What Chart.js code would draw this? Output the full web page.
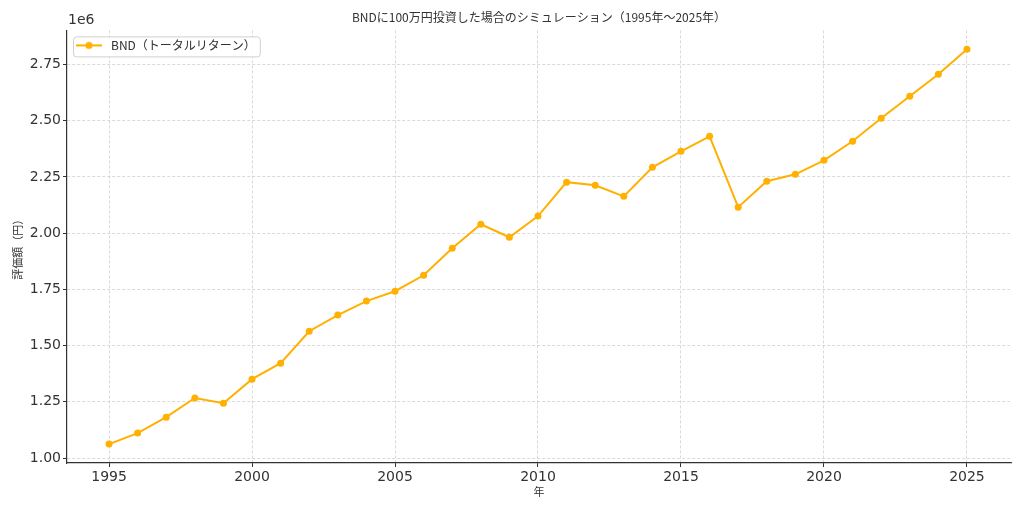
<!DOCTYPE html>
<html>
<head>
<meta charset="utf-8">
<script src="https://cdn.jsdelivr.net/npm/chart.js@4"></script>
<style>
  html, body { margin: 0; padding: 0; background: #fff; }
  #wrap { width: 1024px; height: 512px; }
</style>
</head>
<body>
<div id="wrap"><canvas id="bndChart" width="1024" height="512"></canvas></div>
<script>
const years = [1995, 1996, 1997, 1998, 1999, 2000, 2001, 2002, 2003, 2004, 2005, 2006, 2007, 2008, 2009, 2010,
               2011, 2012, 2013, 2014, 2015, 2016, 2017, 2018, 2019, 2020, 2021, 2022, 2023, 2024, 2025];
const values = [1062000, 1111000, 1182000, 1267000, 1244000, 1351000, 1422000, 1564000, 1636000, 1698000,
                1742000, 1813000, 1933000, 2040000, 1982000, 2076000, 2227000, 2213000, 2164000, 2293000,
                2364000, 2431000, 2116000, 2231000, 2262000, 2324000, 2409000, 2511000, 2609000, 2707000, 2818000];
const xTicks = [1995, 2000, 2005, 2010, 2015, 2020, 2025];
const yTicks = [1000000, 1250000, 1500000, 1750000, 2000000, 2250000, 2500000, 2750000];

const seriesLabel = 'BND（トータルリターン）';
const lineColor = '#FFB000';
const cjk = '"Noto Sans CJK JP", "Noto Sans", sans-serif';
const num = '"DejaVu Sans", sans-serif';

// legend icon: short line with a dot, like matplotlib (a few px of blank on the right)
const legendIcon = document.createElement('canvas');
legendIcon.width = 29; legendIcon.height = 10;
(function () {
    const c = legendIcon.getContext('2d');
    c.strokeStyle = lineColor; c.lineWidth = 2;
    c.beginPath(); c.moveTo(0, 5); c.lineTo(26, 5); c.stroke();
    c.fillStyle = lineColor;
    c.beginPath(); c.arc(13, 5, 3.5, 0, Math.PI * 2); c.fill();
})();

const extrasPlugin = {
    id: 'extras',
    beforeDraw(chart) {
        // keep the legend inside the plot area, top-left
        const lg = chart.legend;
        if (!lg) return;
        const dy = chart.chartArea.top - lg.top;
        lg.top += dy; lg.bottom += dy;
        (lg.legendHitBoxes || []).forEach(h => { h.top += dy; });
    },
    beforeDatasetsDraw(chart) {
        const lg = chart.legend;
        if (!lg || !lg.legendHitBoxes || !lg.legendHitBoxes.length) return;
        const hb = lg.legendHitBoxes[0];
        const ctx = chart.ctx;
        const x = hb.left - 3, y = hb.top - 3;
        const w = hb.width + 7, h = hb.height + 8;
        ctx.save();
        ctx.fillStyle = 'rgba(255,255,255,0.9)';
        ctx.strokeStyle = '#d0d0d0';
        ctx.lineWidth = 1;
        ctx.beginPath();
        ctx.roundRect(x + 0.5, y + 0.5, w, h, 3);
        ctx.fill(); ctx.stroke();
        ctx.restore();
        lg.draw();
    },
    afterDraw(chart) {
        const ctx = chart.ctx;
        const a = chart.chartArea;
        ctx.save();
        ctx.fillStyle = '#333';
        ctx.font = '14px ' + num;
        ctx.textAlign = 'left';
        ctx.textBaseline = 'bottom';
        ctx.fillText('1e6', a.left + 1, a.top - 3);
        ctx.restore();
    }
};

const ctx = document.getElementById('bndChart').getContext('2d');
new Chart(ctx, {
    type: 'line',
    data: {
        datasets: [{
            label: seriesLabel,
            data: years.map((yr, i) => ({ x: yr, y: values[i] })),
            borderColor: lineColor,
            backgroundColor: lineColor,
            borderWidth: 2,
            pointRadius: 3.5,
            pointBorderWidth: 0,
            pointBackgroundColor: lineColor,
            fill: false,
            tension: 0
        }]
    },
    options: {
        responsive: false,
        animation: false,
        devicePixelRatio: 1,
        layout: { padding: { left: 0, right: 13, top: 0, bottom: 0 } },
        plugins: {
            title: {
                display: true,
                text: 'BNDに100万円投資した場合のシミュレーション（1995年〜2025年）',
                fullSize: false,
                color: '#333',
                font: { family: cjk, size: 12, weight: 'normal' },
                padding: { top: 10, bottom: 6 }
            },
            legend: {
                position: 'chartArea',
                align: 'start',
                labels: {
                    usePointStyle: true,
                    pointStyleWidth: 29,
                    boxHeight: 10,
                    padding: 9,
                    color: '#333',
                    font: { family: cjk, size: 12 },
                    generateLabels(chart) {
                        const items = Chart.defaults.plugins.legend.labels.generateLabels(chart);
                        items.forEach(it => { it.pointStyle = legendIcon; });
                        return items;
                    }
                }
            },
            tooltip: { enabled: false }
        },
        scales: {
            x: {
                type: 'linear',
                min: 1993.53,
                max: 2026.54,
                afterBuildTicks: axis => { axis.ticks = xTicks.map(v => ({ value: v })); },
                afterFit: axis => { axis.height = 49; },
                ticks: {
                    color: '#333',
                    font: { family: num, size: 14 },
                    padding: 2,
                    maxRotation: 0,
                    callback: v => String(v)
                },
                grid: {
                    color: '#cfcfcf',
                    lineWidth: 0.8,
                    tickLength: 4,
                    tickColor: '#333',
                    tickWidth: 1,
                    tickBorderDash: []
                },
                border: { display: true, color: '#333', width: 1.2, dash: [3, 2] },
                title: {
                    display: true,
                    text: '年',
                    color: '#333',
                    font: { family: cjk, size: 11 },
                    padding: { top: 0, bottom: 14 }
                }
            },
            y: {
                min: 978000,
                max: 2902000,
                afterBuildTicks: axis => { axis.ticks = yTicks.map(v => ({ value: v })); },
                afterFit: axis => { axis.width = 67; },
                ticks: {
                    color: '#333',
                    font: { family: num, size: 14 },
                    padding: 2,
                    callback: v => (v / 1e6).toFixed(2)
                },
                grid: {
                    color: '#cfcfcf',
                    lineWidth: 0.8,
                    tickLength: 4,
                    tickColor: '#333',
                    tickWidth: 1,
                    tickBorderDash: []
                },
                border: { display: true, color: '#333', width: 1.2, dash: [3, 2] },
                title: {
                    display: true,
                    text: '評価額（円）',
                    color: '#333',
                    font: { family: cjk, size: 11 },
                    padding: { top: 11, bottom: 0 }
                }
            }
        }
    },
    plugins: [extrasPlugin]
});
</script>
</body>
</html>
